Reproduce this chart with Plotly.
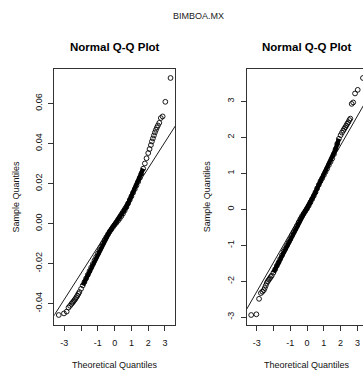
import plotly.graph_objects as go

W, H = 363, 372
OFF = 0  # body margin is removed by the page script below

# ---------------- data ----------------
main_title = "BIMBOA.MX"
panel_title = "Normal Q-Q Plot"
xlab = "Theoretical Quantiles"
ylab = "Sample Quantiles"

# left panel: returns
ret_theo = [-3.33, -3.02, -2.86, -2.75, -2.66, -2.58, -2.52, -2.46, -2.40, -2.34,
            -2.28, -2.22, -2.16, -2.10, -2.00, -1.90, -1.80, -1.70, -1.60, -1.50,
            -1.40, -1.30, -1.20, -1.10, -1.00, -0.90, -0.80, -0.70, -0.60, -0.50,
            -0.40, -0.30, -0.20, -0.10, 0.00, 0.10, 0.20, 0.30, 0.40, 0.50,
            0.60, 0.70, 0.80, 0.90, 1.00, 1.10, 1.20, 1.30, 1.40, 1.50,
            1.60, 1.70, 1.80, 1.90, 2.00, 2.08, 2.16, 2.22, 2.28, 2.34,
            2.40, 2.46, 2.52, 2.58, 2.66, 2.75, 2.86, 3.02, 3.33]
ret_samp = [-0.0457, -0.0449, -0.0440, -0.0420, -0.0411, -0.0402, -0.0396, -0.0390, -0.0383, -0.0376,
            -0.0368, -0.0360, -0.0351, -0.0342, -0.0326, -0.0309, -0.0292, -0.0274, -0.0256, -0.0238,
            -0.0220, -0.0202, -0.0184, -0.0167, -0.0150, -0.0133, -0.0116, -0.0099, -0.0083, -0.0068,
            -0.0054, -0.0041, -0.0029, -0.0017, -0.0006, 0.0004, 0.0014, 0.0025, 0.0037, 0.0050,
            0.0065, 0.0082, 0.0100, 0.0118, 0.0136, 0.0154, 0.0172, 0.0190, 0.0208, 0.0228,
            0.0250, 0.0274, 0.0300, 0.0326, 0.0352, 0.0372, 0.0392, 0.0410, 0.0425, 0.0440,
            0.0455, 0.0468, 0.0480, 0.0490, 0.0503, 0.0527, 0.0535, 0.0608, 0.0727]
ret_qqline = [0.0014, 0.0131]          # intercept, slope

# right panel: standardized returns
std_theo = ret_theo
std_samp = [-2.94, -2.92, -2.49, -2.33, -2.29, -2.25, -2.19, -2.12, -2.05, -2.00,
            -1.96, -1.92, -1.88, -1.84, -1.76, -1.67, -1.57, -1.48, -1.38, -1.28,
            -1.18, -1.10, -1.01, -0.92, -0.83, -0.73, -0.64, -0.55, -0.46, -0.36,
            -0.27, -0.19, -0.12, -0.05, 0.02, 0.10, 0.19, 0.28, 0.37, 0.47,
            0.58, 0.68, 0.78, 0.86, 0.95, 1.04, 1.13, 1.23, 1.32, 1.41,
            1.53, 1.67, 1.82, 1.96, 2.06, 2.13, 2.19, 2.24, 2.28, 2.33,
            2.38, 2.42, 2.48, 2.52, 2.93, 2.97, 3.22, 3.32, 3.65]
std_qqline = [0.15, 0.814]

x_ticks = [-3, -2, -1, 0, 1, 2, 3]
x_ticktext = ["-3", "", "-1", "0", "1", "2", "3"]
ret_yticks = [-0.04, -0.02, 0.0, 0.02, 0.04, 0.06]
ret_yticktext = ["-0.04", "-0.02", "0.00", "0.02", "0.04", "0.06"]
std_yticks = [-3, -2, -1, 0, 1, 2, 3]
std_yticktext = ["-3", "-2", "-1", "0", "1", "2", "3"]

# ---------------- layout geometry (page pixels) ----------------
FONT = "Liberation Sans, Arial, Helvetica, sans-serif"
BOX_L = (54.3, 175.0)
BOX_R_LEFT = 246.7
BOX_W = BOX_L[1] - BOX_L[0]
BOX_TOP, BOX_BOT = 68.5, 324.5
DENSE = {"ret": (-1.9, 1.75), "std": (-2.0, 1.9)}
AX_COL = "#333333"

FW, FH = W - OFF, H - OFF


def padded(vals):
    lo, hi = min(vals), max(vals)
    s = hi - lo
    return [lo - 0.04 * s, hi + 0.04 * s]


def px(x):
    return (x - OFF) / FW


def py(y):
    return 1 - (y - OFF) / FH


ydom = [py(BOX_BOT), py(BOX_TOP)]

fig = go.Figure()


def add_panel(theo, samp, qqline, xa, ya, key):
    lo, hi = DENSE[key]
    dx = [t for t in theo if lo <= t <= hi]
    dy = [s for t, s in zip(theo, samp) if lo <= t <= hi]
    fig.add_trace(go.Scatter(x=dx, y=dy, mode="lines", xaxis=xa, yaxis=ya,
                             line=dict(color="black", width=4.4), hoverinfo="skip",
                             showlegend=False))
    fig.add_trace(go.Scatter(x=theo, y=samp, mode="markers", xaxis=xa, yaxis=ya,
                             cliponaxis=False, showlegend=False,
                             marker=dict(symbol="circle-open", size=4.8, color="black",
                                         line=dict(width=0.9, color="black"))))
    a, b = qqline
    lx = [-10, 10]
    fig.add_trace(go.Scatter(x=lx, y=[a + b * v for v in lx], mode="lines",
                             xaxis=xa, yaxis=ya, showlegend=False,
                             line=dict(color="black", width=0.9)))


add_panel(ret_theo, ret_samp, ret_qqline, "x", "y", "ret")
add_panel(std_theo, std_samp, std_qqline, "x2", "y2", "std")

# the right panel is cropped by the picture's right edge
xr2_full = padded(std_theo)
frac = (W - BOX_R_LEFT) / BOX_W
xr2 = [xr2_full[0], xr2_full[0] + frac * (xr2_full[1] - xr2_full[0])]

axis_common = dict(showgrid=False, zeroline=False, ticks="outside", ticklen=5,
                   tickwidth=1, tickcolor=AX_COL, linecolor=AX_COL, linewidth=1,
                   showline=True, ticklabeloverflow="allow",
                   tickfont=dict(family=FONT, size=9, color="#111"))

fig.update_layout(
    width=FW, height=FH, margin=dict(l=0, r=0, t=0, b=0),
    paper_bgcolor="white", plot_bgcolor="white", showlegend=False, hovermode=False,
    xaxis=dict(domain=[px(BOX_L[0]), px(BOX_L[1])], range=padded(ret_theo),
               tickvals=x_ticks, ticktext=x_ticktext, anchor="y", ticklabelstandoff=5,
               mirror=True, **axis_common),
    yaxis=dict(domain=ydom, range=padded(ret_samp), tickvals=ret_yticks,
               ticktext=ret_yticktext, anchor="x", tickangle=-90,
               ticklabelstandoff=3, mirror=True, **axis_common),
    xaxis2=dict(domain=[px(BOX_R_LEFT), 1.0], range=xr2,
                tickvals=x_ticks, ticktext=x_ticktext, anchor="y2", ticklabelstandoff=5,
                mirror=True, **axis_common),
    yaxis2=dict(domain=ydom, range=padded(std_samp), tickvals=std_yticks,
                ticktext=std_yticktext, anchor="x2", tickangle=-90,
                ticklabelstandoff=3, mirror=False, **axis_common),
)

centers = [(BOX_L[0] + BOX_L[1]) / 2, BOX_R_LEFT + BOX_W / 2]
ylab_x = [15.0, 206.7]
mid_y = (BOX_TOP + BOX_BOT) / 2

ann = [dict(text=main_title, x=px(198.7), y=py(16.5), font=dict(size=9, family=FONT, color="#222"))]
for c, yx in zip(centers, ylab_x):
    ann.append(dict(text="<b>" + panel_title + "</b>", x=px(c), y=py(47),
                    font=dict(size=11.5, family=FONT, color="black")))
    ann.append(dict(text=xlab, x=px(c), y=py(365), font=dict(size=9, family=FONT, color="#111")))
    ann.append(dict(text=ylab, x=px(yx), y=py(mid_y), textangle=-90,
                    font=dict(size=9, family=FONT, color="#111")))
for a_ in ann:
    a_.update(xref="paper", yref="paper", showarrow=False, xanchor="center", yanchor="middle")
fig.update_layout(annotations=ann)

# place the figure at the page's top-left corner, without scrollbars or toolbar
fig.write_html("out.html",
               config={"displayModeBar": False, "staticPlot": True},
               post_script="document.body.style.margin='0px';"
                           "document.documentElement.style.overflow='hidden';"
                           "document.body.style.overflow='hidden';")
